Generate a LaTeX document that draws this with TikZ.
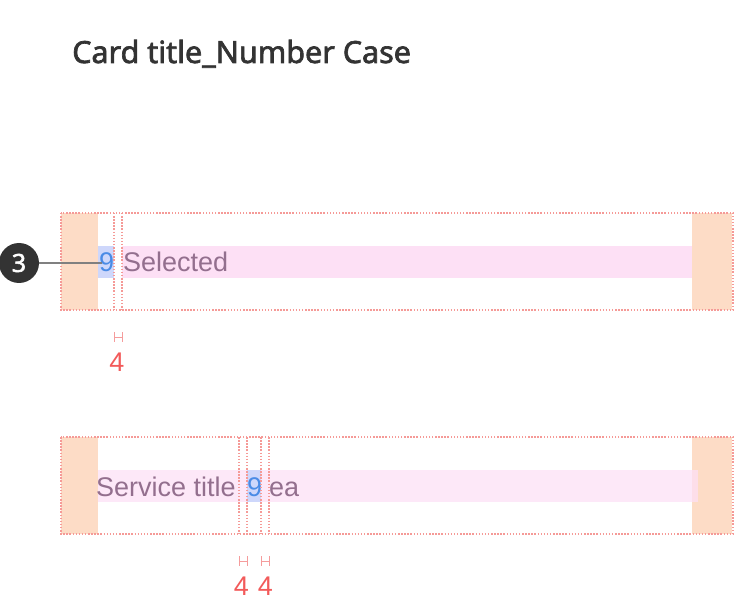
\documentclass[tikz,border=0pt]{standalone}
\usepackage{fontspec}
\setmainfont{Liberation Sans}
\newfontfamily\titlefont{Noto Sans}[FakeBold=2.2]
\definecolor{padc}{HTML}{FDDCC6}
\definecolor{bandc}{HTML}{FDE0F5}
\definecolor{numbg}{HTML}{CED7FB}
\definecolor{dotc}{HTML}{F59A97}
\definecolor{txtc}{HTML}{936F8E}
\definecolor{numc}{HTML}{4A8BE6}
\definecolor{dimc}{HTML}{F25A5A}
\definecolor{dimlc}{HTML}{F59C9C}
\definecolor{darkc}{HTML}{333333}
\tikzset{
  pad/.style={fill=padc, draw=none},
  band/.style={fill=bandc, draw=none},
  numbox/.style={fill=numbg, draw=none},
  guide/.style={draw=dotc, line width=1.5pt, dash pattern=on 1.5pt off 1.6pt},
  lbl/.style={inner sep=0pt, anchor=base west, text=txtc, font=\fontsize{27}{30}\selectfont},
  numlbl/.style={inner sep=0pt, anchor=base west, text=numc, font=\fontsize{27}{30}\selectfont},
  dimtxt/.style={inner sep=0pt, anchor=base, text=dimc, font=\fontsize{27}{30}\selectfont},
  dimline/.style={draw=dimlc, line width=1pt},
  badge/.style={circle, fill=darkc, minimum size=40pt, inner sep=0pt, text=white, font=\titlefont\fontsize{25}{26}\selectfont},
}
\begin{document}
\begin{tikzpicture}[x=1pt,y=-1pt]
\useasboundingbox (0,0) rectangle (734,604);
\node[inner sep=0pt, anchor=base west, text=darkc, font=\titlefont\fontsize{30.5}{33}\selectfont] (title) at (72,63) {Card title\_Number Case};

% card 1
\fill[pad] (61,213) rectangle (98,310);
\fill[pad] (692,213) rectangle (732,310);
\fill[band] (122,246) rectangle (692,278);
\fill[numbox] (98,246) rectangle (114,278);
\node[numlbl] (n1) at (99,272) {9};
\node[lbl] (s1) at (123,272) {Selected};
\draw[guide] (61,213) rectangle (733,310);
\draw[guide] (114,213) -- (114,310);
\draw[guide] (122,213) -- (122,310);
\node[badge] (b3) at (19,263) {3};
\coordinate (c1) at (102,263);
\draw[draw=gray, line width=1.3pt] (b3.east) -- (c1);
\draw[dimline] (114,332) -- (114,342) (122,332) -- (122,342) (114,337) -- (122,337);
\node[dimtxt] (d1) at (117,371) {4};

% card 2
\fill[pad] (61,437) rectangle (98,534);
\fill[pad] (692,437) rectangle (732,534);
\fill[bandc, opacity=0.75] (98,470) rectangle (698,502);
\fill[numbox] (247,470) rectangle (261,502);
\node[lbl] (s2) at (96,496.5) {Service title};
\node[numlbl] (n2) at (247,496.5) {9};
\node[lbl] (s3) at (269,496.5) {ea};
\draw[guide] (61,437) rectangle (733,534);
\draw[guide] (239,437) -- (239,534);
\draw[guide] (247,437) -- (247,534);
\draw[guide] (261,437) -- (261,534);
\draw[guide] (269,437) -- (269,534);
\draw[dimline] (239,556) -- (239,566) (247,556) -- (247,566) (239,561) -- (247,561);
\draw[dimline] (261,556) -- (261,566) (269,556) -- (269,566) (261,561) -- (269,561);
\node[dimtxt] (d2) at (241.5,595) {4};
\node[dimtxt] (d3) at (265.5,595) {4};
\end{tikzpicture}
\end{document}
